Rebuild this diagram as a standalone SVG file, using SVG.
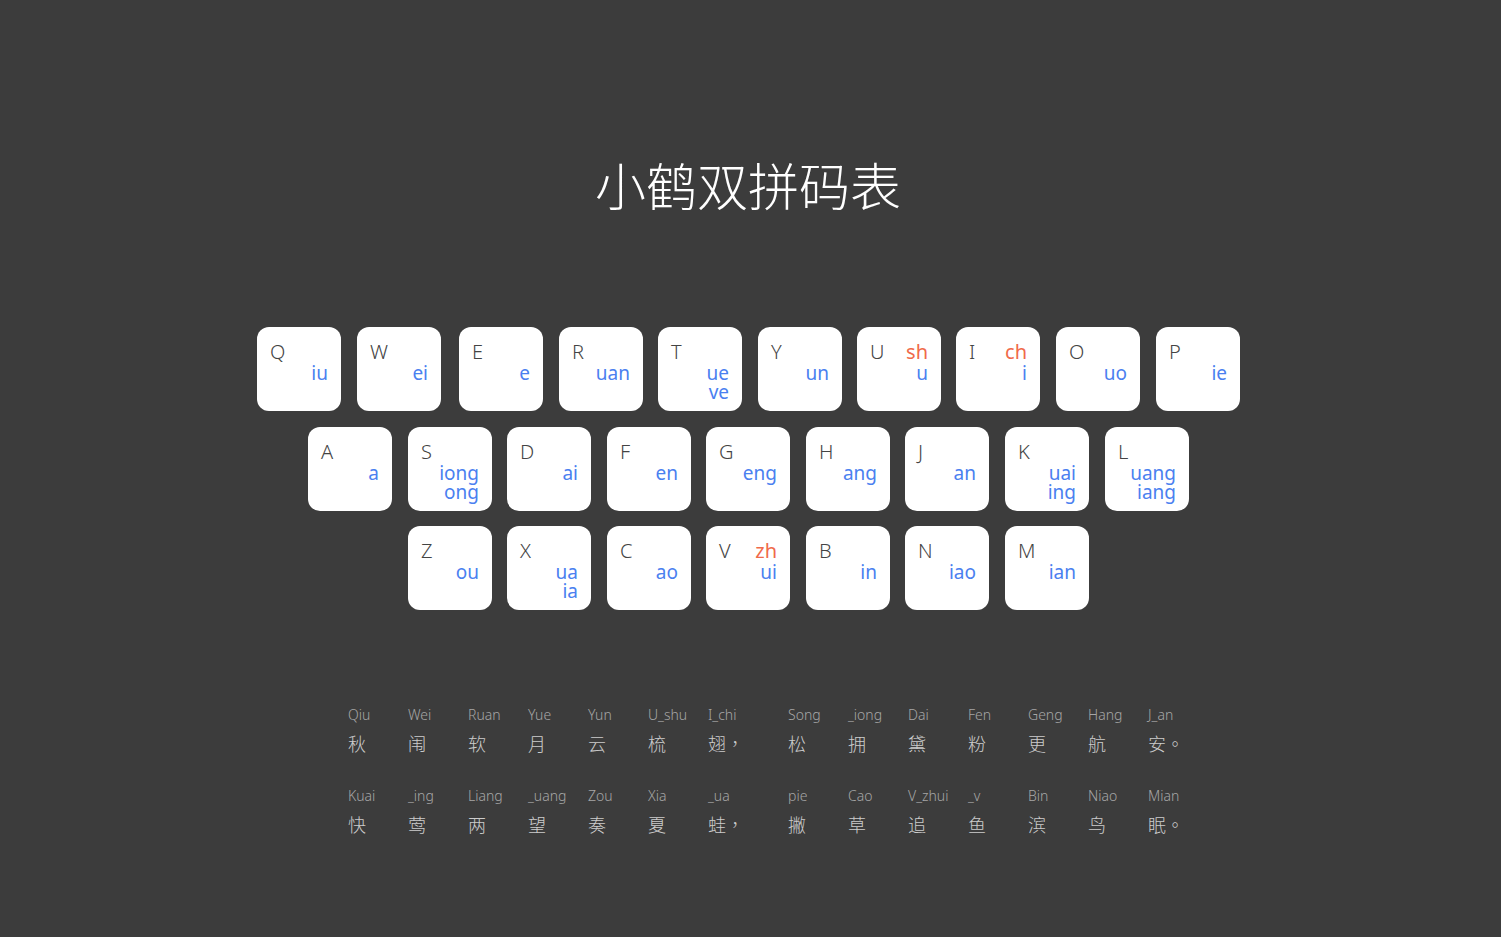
<svg xmlns="http://www.w3.org/2000/svg" width="1501" height="937" viewBox="0 0 1501 937">
<style>
.k{fill:#ffffff}
.l{font-family:"Noto Sans","Liberation Sans",sans-serif;font-size:20px;fill:#444444;font-weight:300}
.b{font-family:"Noto Sans","Liberation Sans",sans-serif;font-size:19px;fill:#4a80f0;text-anchor:end}
.r{font-family:"Noto Sans","Liberation Sans",sans-serif;font-size:20px;fill:#f06a4a;text-anchor:end}
.t{font-family:"Noto Sans CJK SC",sans-serif;font-size:51px;fill:#ffffff;font-weight:200;text-anchor:middle}
.p{font-family:"Noto Sans","Liberation Sans",sans-serif;font-size:14px;fill:#a6a6a6;font-weight:300}
.c{font-family:"Noto Sans CJK SC",sans-serif;font-size:18px;fill:#cccccc;font-weight:300}
.m{font-family:"Noto Sans CJK TC",sans-serif}
</style>
<rect width="1501" height="937" fill="#3c3c3c"/>
<text id="title" class="t" x="748" y="206">小鹤双拼码表</text>
<defs><rect id="key" class="k" width="84" height="84" rx="12"/></defs>
<g id="key-Q"><use href="#key" x="257" y="327"/><text class="l" x="270" y="359">Q</text><text class="b" x="328" y="380">iu</text></g>
<g id="key-W"><use href="#key" x="357" y="327"/><text class="l" x="370" y="359">W</text><text class="b" x="428" y="380">ei</text></g>
<g id="key-E"><use href="#key" x="459" y="327"/><text class="l" x="472" y="359">E</text><text class="b" x="530" y="380">e</text></g>
<g id="key-R"><use href="#key" x="559" y="327"/><text class="l" x="572" y="359">R</text><text class="b" x="630" y="380">uan</text></g>
<g id="key-T"><use href="#key" x="658" y="327"/><text class="l" x="671" y="359">T</text><text class="b" x="729" y="380">ue</text><text class="b" x="729" y="399">ve</text></g>
<g id="key-Y"><use href="#key" x="758" y="327"/><text class="l" x="771" y="359">Y</text><text class="b" x="829" y="380">un</text></g>
<g id="key-U"><use href="#key" x="857" y="327"/><text class="l" x="870" y="359">U</text><text class="r" x="928" y="359">sh</text><text class="b" x="928" y="380">u</text></g>
<g id="key-I"><use href="#key" x="956" y="327"/><text class="l" x="969" y="359">I</text><text class="r" x="1027" y="359">ch</text><text class="b" x="1027" y="380">i</text></g>
<g id="key-O"><use href="#key" x="1056" y="327"/><text class="l" x="1069" y="359">O</text><text class="b" x="1127" y="380">uo</text></g>
<g id="key-P"><use href="#key" x="1156" y="327"/><text class="l" x="1169" y="359">P</text><text class="b" x="1227" y="380">ie</text></g>

<g id="key-A"><use href="#key" x="308" y="427"/><text class="l" x="321" y="459">A</text><text class="b" x="379" y="480">a</text></g>
<g id="key-S"><use href="#key" x="408" y="427"/><text class="l" x="421" y="459">S</text><text class="b" x="479" y="480">iong</text><text class="b" x="479" y="499">ong</text></g>
<g id="key-D"><use href="#key" x="507" y="427"/><text class="l" x="520" y="459">D</text><text class="b" x="578" y="480">ai</text></g>
<g id="key-F"><use href="#key" x="607" y="427"/><text class="l" x="620" y="459">F</text><text class="b" x="678" y="480">en</text></g>
<g id="key-G"><use href="#key" x="706" y="427"/><text class="l" x="719" y="459">G</text><text class="b" x="777" y="480">eng</text></g>
<g id="key-H"><use href="#key" x="806" y="427"/><text class="l" x="819" y="459">H</text><text class="b" x="877" y="480">ang</text></g>
<g id="key-J"><use href="#key" x="905" y="427"/><text class="l" x="918" y="459">J</text><text class="b" x="976" y="480">an</text></g>
<g id="key-K"><use href="#key" x="1005" y="427"/><text class="l" x="1018" y="459">K</text><text class="b" x="1076" y="480">uai</text><text class="b" x="1076" y="499">ing</text></g>
<g id="key-L"><use href="#key" x="1105" y="427"/><text class="l" x="1118" y="459">L</text><text class="b" x="1176" y="480">uang</text><text class="b" x="1176" y="499">iang</text></g>

<g id="key-Z"><use href="#key" x="408" y="526"/><text class="l" x="421" y="558">Z</text><text class="b" x="479" y="579">ou</text></g>
<g id="key-X"><use href="#key" x="507" y="526"/><text class="l" x="520" y="558">X</text><text class="b" x="578" y="579">ua</text><text class="b" x="578" y="598">ia</text></g>
<g id="key-C"><use href="#key" x="607" y="526"/><text class="l" x="620" y="558">C</text><text class="b" x="678" y="579">ao</text></g>
<g id="key-V"><use href="#key" x="706" y="526"/><text class="l" x="719" y="558">V</text><text class="r" x="777" y="558">zh</text><text class="b" x="777" y="579">ui</text></g>
<g id="key-B"><use href="#key" x="806" y="526"/><text class="l" x="819" y="558">B</text><text class="b" x="877" y="579">in</text></g>
<g id="key-N"><use href="#key" x="905" y="526"/><text class="l" x="918" y="558">N</text><text class="b" x="976" y="579">iao</text></g>
<g id="key-M"><use href="#key" x="1005" y="526"/><text class="l" x="1018" y="558">M</text><text class="b" x="1076" y="579">ian</text></g>

<g id="poem">
<text class="p" x="348" y="720">Qiu</text><text class="c" x="348" y="751">秋</text>
<text class="p" x="408" y="720">Wei</text><text class="c" x="408" y="751">闱</text>
<text class="p" x="468" y="720">Ruan</text><text class="c" x="468" y="751">软</text>
<text class="p" x="528" y="720">Yue</text><text class="c" x="528" y="751">月</text>
<text class="p" x="588" y="720">Yun</text><text class="c" x="588" y="751">云</text>
<text class="p" x="648" y="720">U_shu</text><text class="c" x="648" y="751">梳</text>
<text class="p" x="708" y="720">I_chi</text><text class="c" x="708" y="751">翅<tspan class="m">，</tspan></text>
<text class="p" x="788" y="720">Song</text><text class="c" x="788" y="751">松</text>
<text class="p" x="848" y="720">_iong</text><text class="c" x="848" y="751">拥</text>
<text class="p" x="908" y="720">Dai</text><text class="c" x="908" y="751">黛</text>
<text class="p" x="968" y="720">Fen</text><text class="c" x="968" y="751">粉</text>
<text class="p" x="1028" y="720">Geng</text><text class="c" x="1028" y="751">更</text>
<text class="p" x="1088" y="720">Hang</text><text class="c" x="1088" y="751">航</text>
<text class="p" x="1148" y="720">J_an</text><text class="c" x="1148" y="751">安<tspan class="m">。</tspan></text>

<text class="p" x="348" y="801">Kuai</text><text class="c" x="348" y="832">快</text>
<text class="p" x="408" y="801">_ing</text><text class="c" x="408" y="832">莺</text>
<text class="p" x="468" y="801">Liang</text><text class="c" x="468" y="832">两</text>
<text class="p" x="528" y="801">_uang</text><text class="c" x="528" y="832">望</text>
<text class="p" x="588" y="801">Zou</text><text class="c" x="588" y="832">奏</text>
<text class="p" x="648" y="801">Xia</text><text class="c" x="648" y="832">夏</text>
<text class="p" x="708" y="801">_ua</text><text class="c" x="708" y="832">蛙<tspan class="m">，</tspan></text>
<text class="p" x="788" y="801">pie</text><text class="c" x="788" y="832">撇</text>
<text class="p" x="848" y="801">Cao</text><text class="c" x="848" y="832">草</text>
<text class="p" x="908" y="801">V_zhui</text><text class="c" x="908" y="832">追</text>
<text class="p" x="968" y="801">_v</text><text class="c" x="968" y="832">鱼</text>
<text class="p" x="1028" y="801">Bin</text><text class="c" x="1028" y="832">滨</text>
<text class="p" x="1088" y="801">Niao</text><text class="c" x="1088" y="832">鸟</text>
<text class="p" x="1148" y="801">Mian</text><text class="c" x="1148" y="832">眠<tspan class="m">。</tspan></text>
</g>
</svg>
